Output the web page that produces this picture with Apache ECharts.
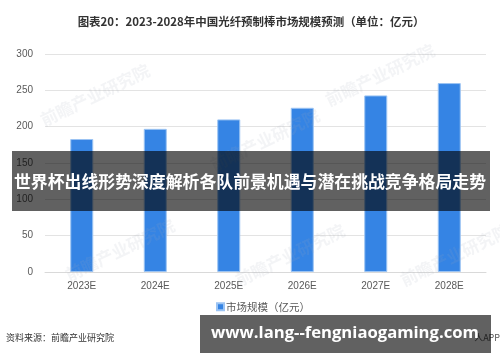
<!DOCTYPE html>
<html><head><meta charset="utf-8">
<script src="https://cdn.jsdelivr.net/npm/echarts@6/dist/echarts.min.js"></script>
<style>html,body{margin:0;padding:0;background:#fff}#c{width:500px;height:362px}</style>
</head><body><div id="c"></div>
<script>
const categories = ['2023E','2024E','2025E','2026E','2027E','2028E'];
const marketSize = [183, 197, 210, 226, 243, 260];
const yTicks = [0, 50, 100, 150, 200, 250, 300];
const titleText = '图表20：2023-2028年中国光纤预制棒市场规模预测（单位：亿元）';
const seriesName = '市场规模（亿元）';
const sourceText = '资料来源：前瞻产业研究院';
const bannerText = '世界杯出线形势深度解析各队前景机遇与潜在挑战竞争格局走势';
const urlText = 'www.lang--fengniaogaming.com';

const ff = '"Noto Sans CJK SC","Noto Sans",sans-serif';
const mctx = document.createElement('canvas').getContext('2d');
function fitSize(text, family, weight, target){
  mctx.font = weight + ' 20px ' + family;
  return 20 * target / mctx.measureText(text).width;
}
const bannerSize = Math.min(18, fitSize(bannerText, ff, 'bold', 472));
const urlFamily = '"Open Sans","Liberation Sans",sans-serif';
const urlSize = fitSize(urlText, urlFamily, 'bold', 268);
const titleSize = fitSize(titleText, ff, 'bold', 347);

const chart = echarts.init(document.getElementById('c'), null, {renderer:'canvas'});
const wm = [];
[[95,95],[265,140],[380,75],[120,250],[290,255],[455,255]].forEach(p=>{
  wm.push({type:'text', x:p[0], y:p[1], rotation:Math.PI/7, z:5,
    style:{text:'前瞻产业研究院', font:'bold 17px '+ff, fill:'rgba(160,170,185,0.13)', align:'center', verticalAlign:'middle'}});
});
chart.setOption({
  animation:false,
  graphic:[...wm,
    {type:'text', z:50, x:251, y:22, style:{text:titleText, font:'bold '+titleSize.toFixed(2)+'px '+ff, fill:'#333', align:'center', verticalAlign:'middle'}},
    {type:'rect', z:100, shape:{x:12, y:151, width:478, height:60}, style:{fill:'rgba(0,0,0,0.62)'}},
    {type:'text', z:101, x:250, y:182, style:{text:bannerText, font:'bold '+bannerSize.toFixed(2)+'px '+ff, fill:'#fff', align:'center', verticalAlign:'middle'}},
    {type:'text', z:50, x:6, y:338, style:{text:sourceText, font:'9px '+ff, fill:'#333', verticalAlign:'middle'}},
    {type:'text', z:50, x:500, y:338, style:{text:'人APP', font:'9px '+ff, fill:'#555', align:'right', verticalAlign:'middle'}},
    {type:'rect', z:100, shape:{x:200, y:315, width:291, height:38}, style:{fill:'rgba(0,0,0,0.62)'}},
    {type:'text', z:101, x:345, y:333, style:{text:urlText, font:'bold '+urlSize.toFixed(2)+'px '+urlFamily, fill:'#fff', align:'center', verticalAlign:'middle'}}
  ],
  grid:{left:45, right:14, top:54, bottom:90},
  legend:{data:[seriesName], bottom:45, left:211, itemWidth:7, itemHeight:7, icon:'rect', itemGap:4,
    textStyle:{fontFamily:ff, fontSize:10.5, color:'#595959', padding:[0,0,0,-3]}},
  xAxis:{type:'category', data:categories, axisTick:{show:false},
    axisLine:{lineStyle:{color:'#d9d9d9', width:1}},
    axisLabel:{color:'#595959', fontSize:10, fontFamily:'"Liberation Sans",sans-serif', margin:9}},
  yAxis:{type:'value', min:0, max:300, interval:50,
    axisLine:{show:false}, axisTick:{show:false},
    splitLine:{lineStyle:{color:'#e3e3e3'}},
    axisLabel:{color:'#595959', fontSize:10, fontFamily:'"Liberation Sans",sans-serif', margin:12,
      formatter:v=> yTicks.includes(v)? String(v):''}},
  series:[{name:seriesName, type:'bar', data:marketSize, barWidth:23,
    itemStyle:{color:'#3584E4', borderColor:'#9cc4f3', borderWidth:1}}]
});
</script></body></html>
